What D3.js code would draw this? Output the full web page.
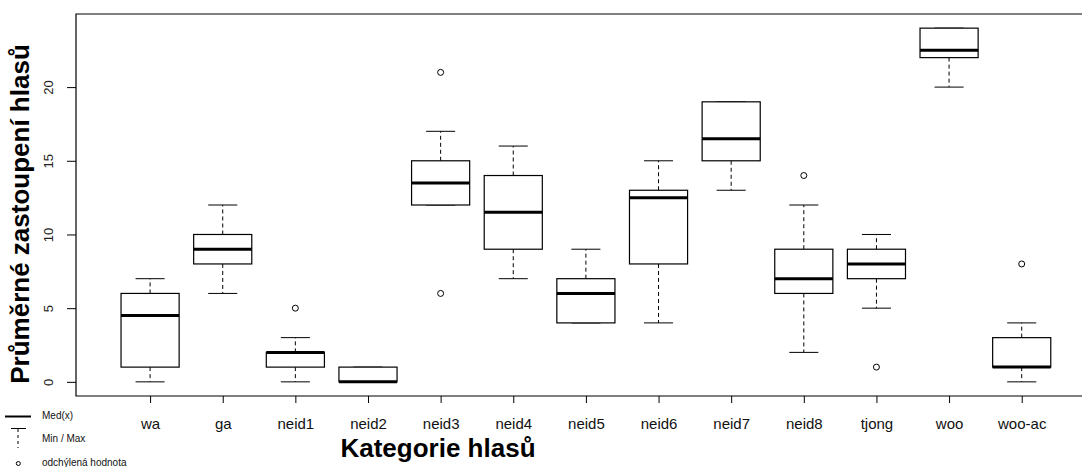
<!DOCTYPE html>
<html>
<head>
<meta charset="utf-8">
<script src="https://cdn.jsdelivr.net/npm/d3@7/dist/d3.min.js"></script>
<style>
  html, body { margin: 0; padding: 0; background: #fff; }
  svg { display: block; font-family: "Liberation Sans", Arial, sans-serif; }
</style>
</head>
<body>
<svg id="chart" width="1082" height="467"></svg>
<script>
// Categories and five-number summaries per category
const categories = ["wa", "ga", "neid1", "neid2", "neid3", "neid4", "neid5", "neid6", "neid7", "neid8", "tjong", "woo", "woo-ac"];
const mins    = [0, 6, 0, 0, 12, 7, 4, 4, 13, 2, 5, 20, 0];
const q1s     = [1, 8, 1, 0, 12, 9, 4, 8, 15, 6, 7, 22, 1];
const medians = [4.5, 9, 2, 0, 13.5, 11.5, 6, 12.5, 16.5, 7, 8, 22.5, 1];
const q3s     = [6, 10, 2, 1, 15, 14, 7, 13, 19, 9, 9, 24, 3];
const maxs    = [7, 12, 3, 1, 17, 16, 9, 15, 19, 12, 10, 24, 4];
const outliers = [[], [], [5], [], [21, 6], [], [], [], [], [14], [1], [], [8]];
const yTicks = [0, 5, 10, 15, 20];

const xTitle = "Kategorie hlasů";
const yTitle = "Průměrné zastoupení hlasů";
const legendLabels = ["Med(x)", "Min / Max", "odchýlená hodnota"];

const svg = d3.select("#chart");

const plot = { left: 76, right: 1095.8, top: 14, bottom: 396 };

// Index positions 1..n with a small margin on both sides
const x = d3.scaleLinear().domain([-0.02, categories.length + 1.02]).range([plot.left, plot.right]);
const y = d3.scaleLinear().domain([-0.96, 24.96]).range([plot.bottom, plot.top]);

const boxHalf = 0.4, capHalf = 0.2;

const data = categories.map((c, i) => ({
  name: c, pos: i + 1,
  min: mins[i], q1: q1s[i], med: medians[i], q3: q3s[i], max: maxs[i], out: outliers[i]
}));

// Frame: left, top and bottom edges (right edge falls outside the view)
svg.append("path")
  .attr("d", `M${plot.right},${plot.top}H${plot.left}V${plot.bottom}H${plot.right}`)
  .attr("fill", "none").attr("stroke", "#000").attr("stroke-width", 1.2);

// Axes
const yAxis = d3.axisLeft(y).tickValues(yTicks).tickSize(9).tickFormat(d3.format("d"));
const gy = svg.append("g").attr("transform", `translate(${plot.left},0)`).call(yAxis);
gy.select(".domain").remove();
gy.selectAll(".tick line").attr("stroke", "#000");
gy.selectAll(".tick text")
  .attr("font-size", 13).attr("fill", "#222")
  .attr("x", -28).attr("y", 0).attr("dy", "0.35em").attr("text-anchor", "middle")
  .attr("transform", "rotate(-90, -28, 0)");

const xAxis = d3.axisBottom(x).tickValues(data.map(d => d.pos)).tickSize(7).tickPadding(15)
  .tickFormat((d, i) => categories[i]);
const gx = svg.append("g").attr("transform", `translate(0,${plot.bottom})`).call(xAxis);
gx.select(".domain").remove();
gx.selectAll(".tick line").attr("stroke", "#000");
gx.selectAll(".tick text").attr("font-size", 15).attr("fill", "#111");

// Boxes
const g = svg.append("g").attr("class", "boxes");
const box = g.selectAll("g.box").data(data).join("g").attr("class", "box");

// whiskers (dashed)
box.append("line")
  .attr("x1", d => x(d.pos)).attr("x2", d => x(d.pos))
  .attr("y1", d => y(d.q3)).attr("y2", d => y(d.max))
  .attr("stroke", "#000").attr("stroke-dasharray", "4,3");
box.append("line")
  .attr("x1", d => x(d.pos)).attr("x2", d => x(d.pos))
  .attr("y1", d => y(d.q1)).attr("y2", d => y(d.min))
  .attr("stroke", "#000").attr("stroke-dasharray", "4,3");
// caps
box.append("line")
  .attr("x1", d => x(d.pos - capHalf)).attr("x2", d => x(d.pos + capHalf))
  .attr("y1", d => y(d.max)).attr("y2", d => y(d.max))
  .attr("stroke", "#000");
box.append("line")
  .attr("x1", d => x(d.pos - capHalf)).attr("x2", d => x(d.pos + capHalf))
  .attr("y1", d => y(d.min)).attr("y2", d => y(d.min))
  .attr("stroke", "#000");
// box
box.append("rect")
  .attr("x", d => x(d.pos - boxHalf)).attr("width", d => x(d.pos + boxHalf) - x(d.pos - boxHalf))
  .attr("y", d => y(d.q3)).attr("height", d => y(d.q1) - y(d.q3))
  .attr("fill", "#fff").attr("stroke", "#000").attr("stroke-width", 1.2);
// median
box.append("line")
  .attr("x1", d => x(d.pos - boxHalf)).attr("x2", d => x(d.pos + boxHalf))
  .attr("y1", d => y(d.med)).attr("y2", d => y(d.med))
  .attr("stroke", "#000").attr("stroke-width", 3);
// outliers
box.selectAll("circle").data(d => d.out.map(v => ({ pos: d.pos, v })))
  .join("circle")
  .attr("cx", d => x(d.pos)).attr("cy", d => y(d.v)).attr("r", 3)
  .attr("fill", "none").attr("stroke", "#000").attr("stroke-width", 1);

// Axis titles
svg.append("text")
  .attr("x", 438).attr("y", 457)
  .attr("text-anchor", "middle").attr("font-weight", "bold").attr("font-size", 26)
  .text(xTitle);
svg.append("text")
  .attr("transform", "translate(29,214) rotate(-90)")
  .attr("text-anchor", "middle").attr("font-weight", "bold").attr("font-size", 26)
  .text(yTitle);

// Legend
const lg = svg.append("g").attr("class", "legend");
lg.append("line").attr("x1", 5).attr("x2", 31).attr("y1", 416.5).attr("y2", 416.5)
  .attr("stroke", "#000").attr("stroke-width", 2);
lg.append("line").attr("x1", 11).attr("x2", 26).attr("y1", 428.5).attr("y2", 428.5)
  .attr("stroke", "#000").attr("stroke-width", 1);
lg.append("line").attr("x1", 18).attr("x2", 18).attr("y1", 429).attr("y2", 448)
  .attr("stroke", "#000").attr("stroke-width", 1).attr("stroke-dasharray", "3,3");
lg.append("circle").attr("cx", 18.3).attr("cy", 463.5).attr("r", 2)
  .attr("fill", "none").attr("stroke", "#000").attr("stroke-width", 1);
const legendY = [415.5, 438.5, 462.5];
lg.selectAll("text").data(legendLabels).join("text")
  .attr("x", 42).attr("y", (d, i) => legendY[i]).attr("dy", "0.35em")
  .attr("font-size", 10).attr("fill", "#111")
  .text(d => d);
</script>
</body>
</html>
